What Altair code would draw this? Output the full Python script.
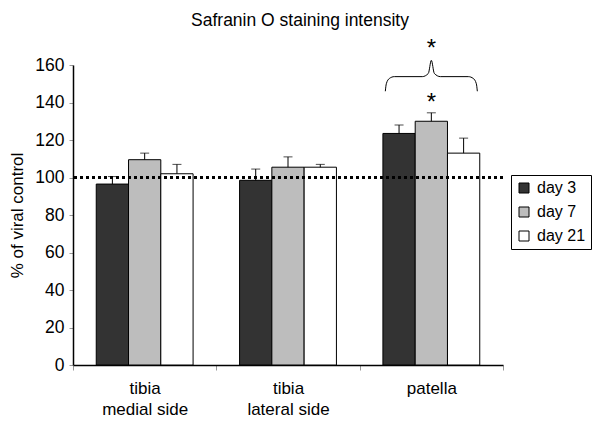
import altair as alt
import pandas as pd

groups = ["tibia\nmedial side", "tibia\nlateral side", "patella"]
days = ["day 3", "day 7", "day 21"]
colors = ["#333333", "#bdbdbd", "#ffffff"]

day3 = [96.5, 98.5, 123.5]
day7 = [109.5, 105.5, 130.0]
day21 = [102.0, 105.5, 113.0]
err3 = [4.0, 6.0, 4.5]
err7 = [3.5, 5.5, 4.5]
err21 = [5.0, 1.5, 8.0]

ref_line = [100]

# annotations (significance marks above patella, day 7)
star_group = ["patella", "patella"]
star_day = ["day 7", "day 7"]
star_y = [141.6, 170.3]

# curly brace over the patella group (x in group units, y in data units)
brace_x = [2.179, 2.186, 2.207, 2.242, 2.437, 2.479, 2.5, 2.521, 2.563, 2.758, 2.793, 2.814, 2.821]
brace_y = [146.0, 150.0, 152.8, 153.8, 153.8, 155.5, 162.5, 155.5, 153.8, 153.8, 152.8, 150.0, 146.0]

rows = []
for d, vals, errs in [("day 3", day3, err3), ("day 7", day7, err7), ("day 21", day21, err21)]:
    for g, v, e in zip(groups, vals, errs):
        rows.append({"group": g, "day": d, "value": v, "hi": v + e})
df = pd.DataFrame(rows)

FONT = "Liberation Sans"

x_axis = alt.Axis(
    title=None,
    labelAngle=0,
    labelFontSize=17,
    labelColor="black",
    labelExpr="split(datum.label, '\\n')",
    labelLineHeight=21,
    labelPadding=10,
    tickBand="extent",
    tickSize=5,
    tickColor="#999999",
    domainColor="black",
    domainWidth=1.5,
)
x_scale = alt.Scale(paddingInner=0, paddingOuter=0)
xoff_scale = alt.Scale(paddingOuter=0.72, paddingInner=0)
y_scale = alt.Scale(domain=[0, 160], nice=False, zero=True)
y_axis = alt.Axis(
    title="% of viral control",
    titleFontSize=17,
    titleFontWeight="normal",
    titleColor="black",
    titlePadding=8,
    values=[0, 20, 40, 60, 80, 100, 120, 140, 160],
    labelOverlap=False,
    grid=False,
    labelFontSize=17.5,
    labelColor="black",
    labelPadding=5,
    tickSize=4,
    tickColor="#999999",
    domainColor="black",
    domainWidth=1.5,
)


def X():
    return alt.X("group:N", sort=groups, scale=x_scale, axis=x_axis)


def XO():
    return alt.XOffset("day:N", sort=days, scale=xoff_scale)


def Y(field):
    return alt.Y(field, scale=y_scale, axis=y_axis)


base = alt.Chart(df)

bars = base.mark_bar(stroke="black", strokeWidth=1).encode(
    x=X(),
    xOffset=XO(),
    y=Y("value:Q"),
    fill=alt.Fill(
        "day:N",
        sort=days,
        scale=alt.Scale(domain=days, range=colors),
        legend=alt.Legend(
            title=None,
            orient="none",
            legendX=438,
            legendY=110,
            symbolType="square",
            symbolSize=100,
            symbolStrokeColor="black",
            symbolStrokeWidth=1,
            labelFontSize=16,
            labelColor="black",
            labelOffset=5,
            rowPadding=8,
            padding=5,
            strokeColor="black",
            fillColor="white",
        ),
    ),
)

err_rule = base.mark_rule(color="black", strokeWidth=1).encode(
    x=X(), xOffset=XO(), y=Y("value:Q"), y2="hi:Q"
)
err_cap = base.mark_tick(color="black", thickness=1, size=9).encode(
    x=X(), xOffset=XO(), y=Y("hi:Q")
)

ref = alt.Chart(pd.DataFrame({"ref": ref_line})).mark_rule(
    color="black", strokeWidth=3, strokeDash=[3, 3]
).encode(y=Y("ref:Q"))

stars = alt.Chart(pd.DataFrame({"group": star_group, "day": star_day, "y": star_y})).mark_text(
    text="*", fontSize=24, baseline="middle", dy=3, color="black", font=FONT
).encode(x=X(), xOffset=XO(), y=Y("y:Q"))

main = alt.layer(bars, err_rule, err_cap, ref, stars)

brace = alt.Chart(
    pd.DataFrame({"bx": brace_x, "by": brace_y, "i": list(range(len(brace_x)))})
).mark_line(color="black", strokeWidth=1, interpolate="monotone", clip=False).encode(
    x=alt.X("bx:Q", scale=alt.Scale(domain=[0, 3], nice=False, zero=False), axis=None),
    y=Y("by:Q"),
    order="i:Q",
)

chart = (
    alt.layer(main, brace)
    .resolve_scale(x="independent")
    .properties(
        width=430,
        height=300,
        autosize=alt.AutoSizeParams(type="none"),
        padding={"left": 65, "top": 57, "right": 89, "bottom": 57},
        title=alt.TitleParams(
            "Safranin O staining intensity",
            fontSize=17.5,
            fontWeight="normal",
            color="black",
            font=FONT,
            anchor="middle",
            dx=12,
            dy=-3,
        ),
    )
    .configure(font=FONT)
    .configure_view(stroke=None)
)

chart.save("out.html", embed_options={"renderer": "svg", "actions": False})
